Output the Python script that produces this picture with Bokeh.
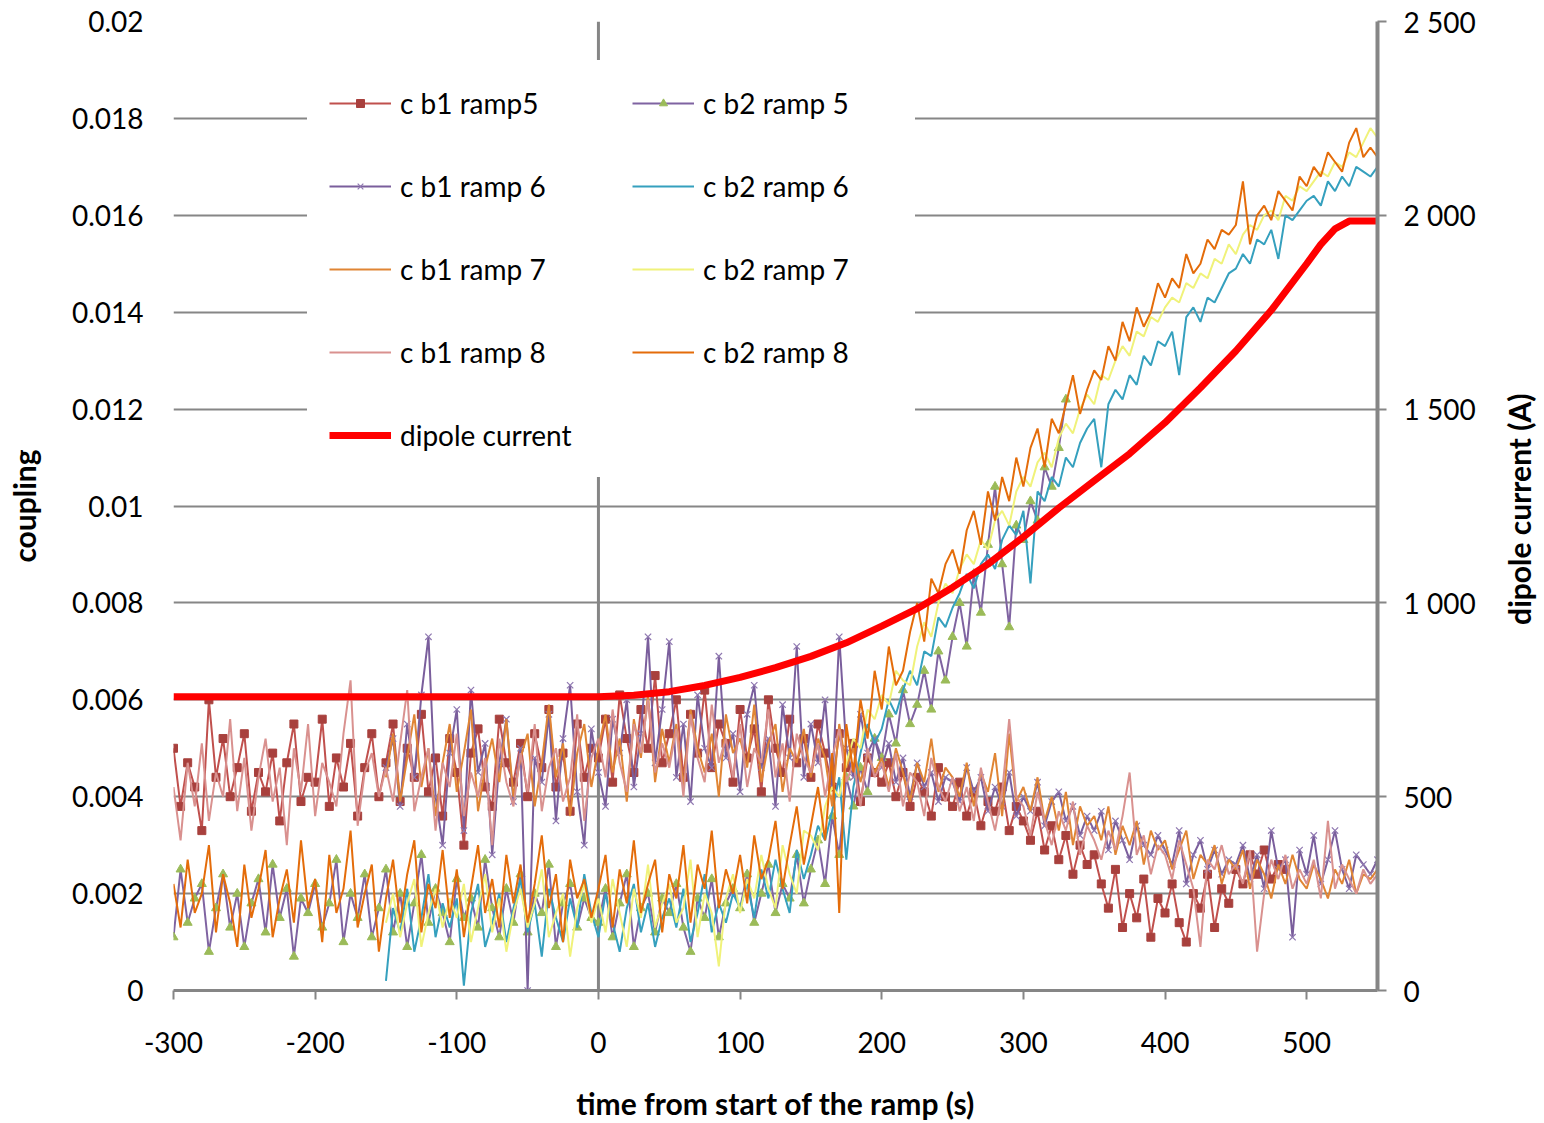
import math
from bokeh.plotting import figure
from bokeh.layouts import row
from bokeh.models import Range1d, LinearAxis, FixedTicker, Span, Legend, LegendItem, Label
from bokeh.embed import file_html
from bokeh.resources import INLINE

# ---------------- data (coupling in units of 1e-4, sampled every 5 s) ----------------
STEP = 5
SCALE = 1e-4

t0_b1_ramp5 = -300
c_b1_ramp5 = [
    50, 38, 47, 42, 33, 60, 44, 52, 40, 46,
    53, 37, 45, 41, 49, 35, 47, 55, 39, 44,
    43, 56, 38, 48, 42, 51, 36, 46, 53, 40,
    47, 55, 39, 50, 44, 57, 41, 48, 36, 52,
    45, 30, 49, 54, 42, 38, 56, 47, 43, 51,
    40, 53, 46, 58, 42, 49, 37, 55, 44, 50,
    48, 56, 43, 61, 52, 45, 58, 50, 65, 47,
    53, 60, 44, 57, 49, 62, 46, 55, 51, 43,
    58, 48, 54, 41, 60, 50, 45, 56, 47, 52,
    44, 55, 49, 42, 53, 46, 51, 39, 48, 45,
    43, 47, 40, 45, 38, 44, 41, 36, 46, 40,
    38, 43, 36, 41, 34, 39, 37, 42, 33, 38,
    35, 31, 37, 29, 34, 27, 32, 24, 30, 26,
    28, 22, 17, 25, 13, 20, 15, 23, 11, 19,
    16, 22, 14, 10, 20, 17, 24, 13, 21, 18,
    25, 22, 28, 24, 29, 23, 26, 25,
]

t0_b2_ramp5 = -300
c_b2_ramp5 = [
    11, 25, 14, 19, 22, 8, 17, 24, 13, 20,
    9, 18, 23, 12, 26, 15, 21, 7, 19, 16,
    22, 13, 18, 27, 10, 20, 15, 24, 11, 17,
    25, 12, 20, 9, 18, 28, 14, 21, 16, 10,
    23, 15, 19, 13, 27, 17, 11, 21, 14, 24,
    12, 20, 16, 26, 9, 18, 22, 13, 19, 15,
    14, 21, 11, 18, 24, 9, 17, 20, 12, 19,
    16, 22, 13, 8, 19, 15, 23, 11, 18, 21,
    17, 24, 14, 20, 26, 16, 22, 19, 28, 18,
    25, 31, 22, 36, 28, 44, 38, 46, 41, 52,
    48, 57, 51, 62, 55, 59, 66, 58, 70, 64,
    73, 80, 71, 86, 78, 92, 104, 88, 75, 96,
    93, 101, 97, 108, 104, 112, 122,
]

t0_b1_ramp6 = -150
c_b1_ramp6 = [
    46, 52, 38, 55, 44, 61, 73, 40, 30, 49,
    58, 33, 62, 45, 51, 28, 47, 56, 39, 50,
    0, 48, 43, 57, 35, 52, 63, 41, 30, 54,
    45, 38, 56, 49, 60, 42, 53, 73, 47, 58,
    72, 44, 55, 39, 61, 50, 46, 69, 48, 53,
    41, 57, 63, 46, 52, 38, 59, 48, 71, 44,
    55, 47, 60, 42, 73, 50, 44, 57, 49, 52,
    46, 51, 43, 48, 40, 47, 42, 45, 39, 44,
    43, 39, 46, 41, 44, 37, 42, 38, 45, 36,
    40, 37, 43, 34, 39, 41, 35, 38, 32, 36,
    33, 37, 29, 35, 31, 27, 34, 30, 28, 32,
    29, 26, 33, 22, 28, 31, 25, 29, 24, 27,
    26, 30, 23, 28, 21, 33, 25, 27, 11, 29,
    24, 32, 22, 27, 33, 25, 21, 28, 26, 24,
    27,
]

t0_b2_ramp6 = -150
c_b2_ramp6 = [
    2, 17, 12, 21, 8, 15, 24, 11, 18, 13,
    19, 1, 16, 22, 9, 14, 20, 10, 17, 23,
    12, 18, 7, 21, 15, 10, 19, 13, 24, 16,
    11, 20, 14, 8, 17, 22, 12, 18, 9, 15,
    19, 13, 21, 10, 16, 24, 12, 18, 14, 20,
    17, 22, 15, 25, 19, 27, 21, 16, 29, 23,
    28, 34, 31, 37, 44, 27, 42, 49, 55, 51,
    54, 60, 57, 62, 66, 63, 70, 69, 77, 75,
    79, 82, 86, 83, 88, 90, 87, 93, 96, 94,
    99, 84, 103, 101, 106, 104, 110, 108, 113, 116,
    118, 108, 121, 124, 122, 127, 125, 131, 129, 134,
    133, 136, 127, 139, 141, 138, 143, 142, 145, 148,
    149, 152, 150, 155, 154, 157, 151, 160, 159, 161,
    163, 164, 162, 167, 165, 168, 166, 170, 169, 168,
    170,
]

t0_b1_ramp7 = -150
c_b1_ramp7 = [
    44, 53, 39, 48, 57, 42, 50, 36, 47, 55,
    41, 49, 58, 37, 46, 52, 43, 56, 40, 48,
    53, 38, 47, 59, 44, 51, 36, 49, 55, 42,
    50, 57, 45, 52, 39, 56, 48, 61, 43, 54,
    47, 55, 42, 58, 50, 45, 53, 40, 57, 49,
    52, 46, 59, 43, 51, 55, 41, 50, 47, 54,
    44, 52, 48, 38, 55, 46, 50, 43, 49, 45,
    48, 42, 50, 45, 39, 47, 43, 52, 41, 46,
    44, 40, 47, 38, 45, 41, 49, 36, 53, 39,
    42, 37, 44, 35, 40, 33, 41, 30, 38, 34,
    36, 31, 38, 28, 34, 30, 35, 26, 33, 29,
    31, 25, 29, 33, 23, 28, 26, 30, 22, 27,
    25, 29, 21, 27, 24, 19, 26, 22, 28, 23,
    21, 26, 23, 19, 25, 22, 27, 20, 24, 23,
    25,
]

t0_b2_ramp7 = -150
c_b2_ramp7 = [
    14, 20, 11, 18, 23, 9, 16, 21, 13, 19,
    15, 22, 10, 17, 24, 12, 19, 8, 16, 21,
    13, 18, 25, 11, 16, 20, 7, 17, 22, 14,
    19, 12, 23, 16, 9, 21, 15, 26, 13, 18,
    22, 14, 17, 27, 11, 20, 16, 5, 19, 24,
    16, 23, 19, 28, 21, 17, 30, 24, 20, 33,
    32, 29, 38, 42, 40, 47, 52, 50, 58, 56,
    61, 59, 66, 64, 63, 71, 76, 73, 80, 84,
    82, 87, 90, 88, 93, 91, 97, 99, 96, 103,
    106, 104, 109, 111, 108, 114, 117, 115, 120, 123,
    121, 127, 126, 130, 133, 131, 136, 135, 139, 138,
    141, 143, 142, 146, 145, 148, 147, 151, 150, 154,
    152, 156, 158, 157, 160, 161, 159, 164, 163, 166,
    165, 167, 169, 168, 171, 170, 173, 172, 175, 178,
    176,
]

t0_b1_ramp8 = -300
c_b1_ramp8 = [
    42, 31, 47, 38, 51, 35, 45, 40, 56, 37,
    48, 33, 44, 52, 39, 46, 30, 50, 41, 55,
    36, 47, 43, 38, 53, 64, 34, 45, 49, 40,
    46, 39, 51, 62, 37, 44, 50, 33, 47, 42,
    53, 36, 45, 40, 48, 30, 52, 43, 38, 49,
    41, 55, 37, 46, 50, 39, 44, 57, 35, 48,
    52, 44, 58, 47, 41, 55, 49, 60, 45, 51,
    46, 54, 40, 57, 48, 43, 59, 47, 52, 44,
    55, 42, 50, 47, 58, 44, 51, 39, 53, 48,
    45, 51, 40, 48, 54, 43, 47, 38, 50, 44,
    47, 41, 49, 38, 45, 43, 36, 48, 42, 39,
    44, 37, 42, 35, 46, 39, 33, 41, 56, 40,
    38, 32, 41, 35, 30, 37, 33, 39, 28, 34,
    31, 27, 33, 29, 36, 45, 28, 32, 24, 30,
    28, 23, 31, 26, 21, 9, 27, 25, 30, 24,
    26, 22, 29, 8, 20, 27, 23, 28, 21, 25,
    22, 27, 19, 35, 21, 26, 23, 20, 25, 22,
    24,
]

t0_b2_ramp8 = -300
c_b2_ramp8 = [
    22, 13, 27, 16, 20, 30, 12, 24, 18, 9,
    26, 15, 21, 29, 11, 19, 25, 14, 31, 17,
    23, 10, 28, 16, 21, 33, 13, 20, 26, 8,
    19, 27, 14, 24, 31, 12, 22, 17, 29, 15,
    25, 11, 21, 30, 16, 23, 13, 28, 18, 26,
    14, 22, 32, 17, 24, 10, 27, 19, 23, 15,
    21, 28, 13, 25, 18, 31, 16, 22, 27, 12,
    24, 19, 30, 14, 26, 21, 33, 17, 25, 20,
    28, 18, 32, 23, 27, 35, 21, 30, 38, 26,
    34, 42, 31, 49, 16, 55, 45, 60, 52, 66,
    58, 71, 63, 66, 74, 80, 72, 85, 82, 88,
    91, 86, 95, 99, 92, 103, 97, 106, 101, 110,
    104, 112, 116, 108, 118, 115, 121, 127, 119, 124,
    128, 126, 133, 130, 138, 134, 141, 137, 140, 146,
    143, 147, 145, 152, 148, 150, 155, 153, 157, 156,
    158, 167, 154, 160, 162, 159, 165, 163, 161, 168,
    166, 170, 168, 173, 171, 169, 175, 178, 172, 174,
    172,
]

dipole_t = [-300, -200, -100, 0, 25, 50, 75, 100, 125, 150, 175, 200, 225, 250,
            275, 300, 325, 350, 375, 400, 425, 450, 475, 500, 510, 520, 530, 540, 550]
dipole_I = [758, 758, 758, 758, 762, 771, 787, 808, 833, 862, 897, 940, 985, 1040,
            1100, 1170, 1245, 1315, 1385, 1465, 1555, 1650, 1755, 1875, 1925, 1965, 1985, 1985, 1985]

x_ticks = [-300, -200, -100, 0, 100, 200, 300, 400, 500]
x_labels = ["-300", "-200", "-100", "0", "100", "200", "300", "400", "500"]
y_ticks = [0, 0.002, 0.004, 0.006, 0.008, 0.01, 0.012, 0.014, 0.016, 0.018, 0.02]
y_labels = ["0", "0.002", "0.004", "0.006", "0.008", "0.01", "0.012", "0.014", "0.016", "0.018", "0.02"]
i_ticks = [0, 500, 1000, 1500, 2000, 2500]
i_labels = ["0", "500", "1 000", "1 500", "2 000", "2 500"]

# ---------------- figure ----------------
FONT = "Lato"
GRID = "#868686"
TITLE_SIZE = "30px"

p = figure(width=1490, height=1123, output_backend="svg", toolbar_location=None,
           x_range=Range1d(-300, 550), y_range=Range1d(0, 0.02),
           min_border_left=173, min_border_right=113, min_border_top=21, min_border_bottom=132,
           outline_line_color=None, background_fill_color="white", border_fill_color="white")
p.extra_y_ranges = {"I": Range1d(0, 2500)}

p.xgrid.visible = False
p.ygrid.grid_line_color = GRID
p.ygrid.grid_line_width = 2

# x axis
xa = p.xaxis[0]
xa.ticker = FixedTicker(ticks=x_ticks)
xa.major_label_overrides = {t: s for t, s in zip(x_ticks, x_labels)}
xa.axis_line_color = GRID
xa.axis_line_width = 3
xa.major_tick_line_color = GRID
xa.major_tick_line_width = 2
xa.major_tick_out = 9
xa.major_tick_in = 0
xa.minor_tick_line_color = None
xa.major_label_standoff = 32
xa.major_label_text_font = FONT
xa.major_label_text_font_size = "28px"
xa.major_label_text_color = "black"
xa.axis_label = "time from start of the ramp (s)"
xa.axis_label_text_font = FONT
xa.axis_label_text_font_size = TITLE_SIZE
xa.axis_label_text_font_style = "bold"
xa.axis_label_text_color = "black"
xa.axis_label_standoff = 29

# left axis (coupling)
ya = p.yaxis[0]
ya.ticker = FixedTicker(ticks=y_ticks)
ya.major_label_overrides = {t: s for t, s in zip(y_ticks, y_labels)}
ya.axis_line_color = None
ya.major_tick_line_color = None
ya.major_tick_out = 0
ya.major_tick_in = 0
ya.minor_tick_line_color = None
ya.major_label_standoff = 30
ya.major_label_text_font = FONT
ya.major_label_text_font_size = "28px"
ya.major_label_text_color = "black"
ya.axis_label = "coupling"
ya.axis_label_text_font = FONT
ya.axis_label_text_font_size = TITLE_SIZE
ya.axis_label_text_font_style = "bold"
ya.axis_label_text_color = "black"
ya.axis_label_standoff = 27

# right axis (dipole current)
ra = LinearAxis(y_range_name="I", ticker=FixedTicker(ticks=i_ticks))
ra.major_label_overrides = {t: s for t, s in zip(i_ticks, i_labels)}
ra.axis_line_color = GRID
ra.axis_line_width = 4
ra.major_tick_line_color = GRID
ra.major_tick_line_width = 2
ra.major_tick_out = 9
ra.major_tick_in = 0
ra.minor_tick_line_color = None
ra.major_label_standoff = 17
ra.major_label_text_font = FONT
ra.major_label_text_font_size = "28px"
ra.major_label_text_color = "black"
p.add_layout(ra, "right")

# primary vertical axis crossing at t = 0
p.add_layout(Span(location=0, dimension="height", line_color=GRID, line_width=3, level="underlay"))


def times(t0, vals):
    return [t0 + STEP * i for i in range(len(vals))]


def scaled(vals):
    return [v * SCALE for v in vals]


series = [
    ("c b1 ramp5", t0_b1_ramp5, c_b1_ramp5, "#C0504D", 2, "square", "#A8403D", "#A8403D", 8),
    ("c b2 ramp 5", t0_b2_ramp5, c_b2_ramp5, "#7F63A1", 2, "triangle", "#9BBB59", "#9BBB59", 9),
    ("c b1 ramp 6", t0_b1_ramp6, c_b1_ramp6, "#7A5E9C", 2, "x", None, "#8F78B0", 9),
    ("c b2 ramp 6", t0_b2_ramp6, c_b2_ramp6, "#35A0BE", 2, None, None, None, 0),
    ("c b1 ramp 7", t0_b1_ramp7, c_b1_ramp7, "#E08534", 2, None, None, None, 0),
    ("c b2 ramp 7", t0_b2_ramp7, c_b2_ramp7, "#F0F27A", 2, None, None, None, 0),
    ("c b1 ramp 8", t0_b1_ramp8, c_b1_ramp8, "#D9918F", 2, None, None, None, 0),
    ("c b2 ramp 8", t0_b2_ramp8, c_b2_ramp8, "#E46C0A", 2, None, None, None, 0),
]

items = {}
for name, t0, vals, col, lw, marker, mfill, mline, msize in series:
    xs = times(t0, vals)
    ys = scaled(vals)
    rs = [p.line(xs, ys, line_color=col, line_width=lw)]
    if marker is not None:
        if marker == "x":
            rs.append(p.scatter(xs, ys, marker="x", size=msize, line_color=mline, line_width=1.2))
        else:
            rs.append(p.scatter(xs, ys, marker=marker, size=msize, fill_color=mfill, line_color=mline))
    items[name] = rs

r_dip = p.line(dipole_t, dipole_I, y_range_name="I", line_color="#FF0000", line_width=7)
items["dipole current"] = [r_dip]

order = ["c b1 ramp5", "c b1 ramp 6", "c b1 ramp 7", "c b1 ramp 8", "dipole current",
         "c b2 ramp 5", "c b2 ramp 6", "c b2 ramp 7", "c b2 ramp 8"]
legend = Legend(items=[LegendItem(label=n, renderers=items[n]) for n in order],
                location=(134, 513), orientation="vertical", ncols=2,
                padding=0, spacing=42, margin=0,
                glyph_width=62, glyph_height=20, label_height=41, label_width=190,
                label_standoff=9,
                label_text_font=FONT, label_text_font_size="28px", label_text_color="black",
                border_line_color="white", border_line_width=22,
                background_fill_color="white", background_fill_alpha=1.0)
p.add_layout(legend, "center")

# narrow strip on the right that carries the secondary axis title (reads bottom to top);
# its frame is aligned with the main frame, so y is measured from the frame bottom
p2 = figure(width=54, height=1123, output_backend="svg", toolbar_location=None,
            x_range=Range1d(0, 1), y_range=Range1d(0, 1),
            x_axis_location=None, y_axis_location=None, min_border=0,
            outline_line_color=None, background_fill_color="white", border_fill_color="white")
for g in p2.grid:
    g.visible = False
p2.add_layout(Label(x=28, y=485, x_units="screen", y_units="screen",
                    text="dipole current  (A)", angle=math.pi / 2,
                    text_align="center", text_baseline="middle",
                    text_font=FONT, text_font_size=TITLE_SIZE, text_font_style="bold",
                    text_color="black"))

layout = row(p, p2, spacing=0)
open("out.html", "w").write(file_html(layout, INLINE))
